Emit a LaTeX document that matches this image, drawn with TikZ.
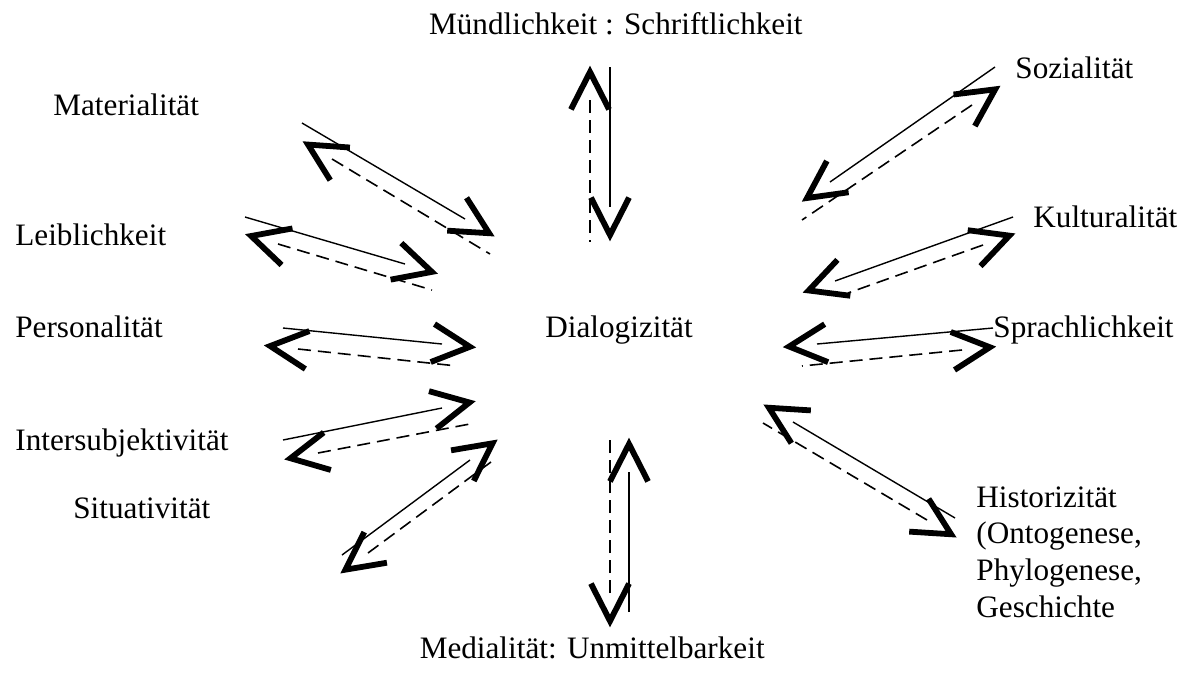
\documentclass[tikz,border=0pt]{standalone}
\usepackage{fontspec}
\setmainfont{Liberation Serif}
\usetikzlibrary{calc}

\begin{document}
\begin{tikzpicture}[
        %Environment config
        x=0.5pt, y=-0.5pt,
        font=\fontsize{15.6}{18.3}\selectfont,
        %Environment styles
        LabelCfg/.style={inner sep=0pt, anchor=base west},
        SolidCfg/.style={line width=0.7pt},
        DashCfg/.style={line width=0.8pt, dash pattern=on 6.5pt off 3.5pt},
        HeadCfg/.style={line width=2.9pt}
    ]
    \useasboundingbox (0,0) rectangle (1187,676);

    %Labels
    \path
        (803,34) node[LabelCfg,anchor=base east](MUEND){Mündlichkeit : Schriftlichkeit}
        (1015,78) node[LabelCfg](SOZ){Sozialität}
        (1033,227) node[LabelCfg](KULT){Kulturalität}
        (993,337) node[LabelCfg](SPR){Sprachlichkeit}
        (976,617) node[LabelCfg,align=left](HIST){Historizität\\(Ontogenese,\\Phylogenese,\\Geschichte}
        (765,658) node[LabelCfg,anchor=base east](MED){Medialität: Unmittelbarkeit}
        (73,518) node[LabelCfg](SIT){Situativität}
        (15,450) node[LabelCfg](INTER){Intersubjektivität}
        (15,337) node[LabelCfg](PERS){Personalität}
        (15,245) node[LabelCfg](LEIB){Leiblichkeit}
        (53,115) node[LabelCfg](MAT){Materialität}
        (545,337) node[LabelCfg](DIA){Dialogizität};

    %Line ends: S = solid, D = dashed, o = outer end, i = inner end
    \path
        (610,67) coordinate (S1o)   (610,207) coordinate (S1i)
        (590,100) coordinate (D1o)  (590,242) coordinate (D1i)
        (995,67) coordinate (S2o)   (830,182) coordinate (S2i)
        (972,105) coordinate (D2o)  (802,220) coordinate (D2i)
        (1013,217) coordinate (S3o) (835,281) coordinate (S3i)
        (983,245) coordinate (D3o)  (848,293) coordinate (D3i)
        (993,328) coordinate (S4o)  (817,344) coordinate (S4i)
        (962,350) coordinate (D4o)  (802,366) coordinate (D4i)
        (955,518) coordinate (S5o)  (793,422) coordinate (S5i)
        (927,520) coordinate (D5o)  (763,423) coordinate (D5i)
        (629,612) coordinate (S6o)  (629,472) coordinate (S6i)
        (610,593) coordinate (D6o)  (610,440) coordinate (D6i)
        (342,555) coordinate (S7o)  (470,460) coordinate (S7i)
        (368,553) coordinate (D7o)  (495,459) coordinate (D7i)
        (283,440) coordinate (S8o)  (442,408) coordinate (S8i)
        (318,453) coordinate (D8o)  (475,423) coordinate (D8i)
        (283,328) coordinate (S9o)  (442,344) coordinate (S9i)
        (298,349) coordinate (D9o)  (457,366) coordinate (D9i)
        (245,217) coordinate (S10o) (405,264) coordinate (S10i)
        (278,244) coordinate (D10o) (432,290) coordinate (D10i)
        (302,123) coordinate (S11o) (465,219) coordinate (S11i)
        (332,159) coordinate (D11o) (490,254) coordinate (D11i);

    %Solid arrow points inwards, dashed one outwards
    \foreach \n in {1,...,11} {
        \draw[SolidCfg] (S\n o) -- (S\n i);
        \draw[DashCfg] (D\n o) -- (D\n i);
        \coordinate (inTip) at ($(S\n i)!-14pt!(S\n o)$);
        \coordinate (outTip) at ($(D\n o)!-14pt!(D\n i)$);
        \draw[HeadCfg]
            ($(inTip)!21pt!27:(S\n i)$) -- (inTip) -- ($(inTip)!21pt!-27:(S\n i)$)
            ($(outTip)!21pt!27:(D\n o)$) -- (outTip) -- ($(outTip)!21pt!-27:(D\n o)$);
    }
\end{tikzpicture}
\end{document}
